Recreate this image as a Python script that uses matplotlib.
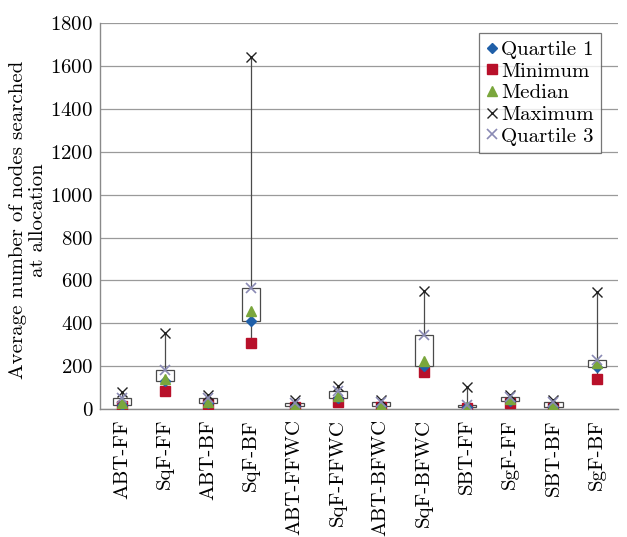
import matplotlib
matplotlib.use("Agg")
import matplotlib.pyplot as plt
from matplotlib.patches import Rectangle

plt.rcParams['font.family'] = ['cmr10', 'DejaVu Serif']
plt.rcParams['axes.formatter.use_mathtext'] = True

categories = ['ABT-FF', 'SqF-FF', 'ABT-BF', 'SqF-BF', 'ABT-FFWC', 'SqF-FFWC',
              'ABT-BFWC', 'SqF-BFWC', 'SBT-FF', 'SgF-FF', 'SBT-BF', 'SgF-BF']
minimum = [15, 85, 25, 310, 10, 35, 10, 175, 5, 30, 5, 140]
quartile1 = [20, 130, 28, 410, 15, 50, 15, 200, 8, 40, 10, 195]
median = [30, 140, 35, 460, 20, 60, 20, 225, 12, 48, 20, 215]
quartile3 = [50, 185, 50, 565, 30, 85, 35, 345, 20, 55, 32, 230]
maximum = [80, 355, 65, 1640, 45, 110, 45, 550, 105, 65, 45, 545]
yticks = [0, 200, 400, 600, 800, 1000, 1200, 1400, 1600, 1800]

fs = 15

fig = plt.figure(figsize=(6.27, 5.37), dpi=100)
ax = fig.add_axes([0.160, 0.238, 0.826, 0.719])

xs = list(range(1, len(categories) + 1))
box_w = 0.42
line_c = '#4a4a4a'

for x, lo, q1, q3, hi in zip(xs, minimum, quartile1, quartile3, maximum):
    ax.add_patch(Rectangle((x - box_w / 2, q1), box_w, q3 - q1, facecolor='white',
                           edgecolor=line_c, lw=0.9, zorder=3))
    ax.plot([x, x], [q3, hi], color=line_c, lw=0.9, zorder=3)
    ax.plot([x, x], [lo, q1], color=line_c, lw=0.9, zorder=3)

h_q1, = ax.plot(xs, quartile1, linestyle='none', marker='D', ms=5,
                color='#1f5fa8', label='Quartile 1', zorder=5)
h_min, = ax.plot(xs, minimum, linestyle='none', marker='s', ms=6.5,
                 color='#b8102a', label='Minimum', zorder=4)
h_med, = ax.plot(xs, median, linestyle='none', marker='^', ms=7,
                 color='#7aa63c', label='Median', zorder=5)
h_max, = ax.plot(xs, maximum, linestyle='none', marker='x', ms=7, mew=1.0,
                 color='#222222', label='Maximum', zorder=5)
h_q3, = ax.plot(xs, quartile3, linestyle='none', marker='x', ms=7, mew=1.2,
                color='#8a8ab4', label='Quartile 3', zorder=6)

ax.set_xlim(0.5, len(categories) + 0.5)
ax.set_ylim(0, 1800)
ax.set_yticks(yticks)
ax.set_xticks(xs)
ax.set_xticklabels(categories, rotation=90, fontsize=fs)
ax.tick_params(axis='y', labelsize=fs, length=0, pad=5)
ax.tick_params(axis='x', length=0, pad=7)
ax.yaxis.grid(True, color='#9a9a9a', lw=0.9)
ax.set_axisbelow(True)
for side in ('top', 'right'):
    ax.spines[side].set_visible(False)
for side in ('left', 'bottom'):
    ax.spines[side].set_color('#8a8a8a')
    ax.spines[side].set_linewidth(1.0)

ax.set_ylabel('Average number of nodes searched\nat allocation', fontsize=fs,
              linespacing=1.15, multialignment='center')
ax.yaxis.set_label_coords(-0.102, 0.49)

leg = ax.legend(handles=[h_q1, h_min, h_med, h_max, h_q3], loc='upper right',
                bbox_to_anchor=(0.975, 0.985), fontsize=fs, frameon=True,
                fancybox=False, edgecolor='#555555', handlelength=0.5,
                handletextpad=0.2, borderpad=0.35, labelspacing=0.15,
                borderaxespad=0.2)
leg.get_frame().set_linewidth(0.9)

fig.savefig('out.png', dpi=100, facecolor='white')
